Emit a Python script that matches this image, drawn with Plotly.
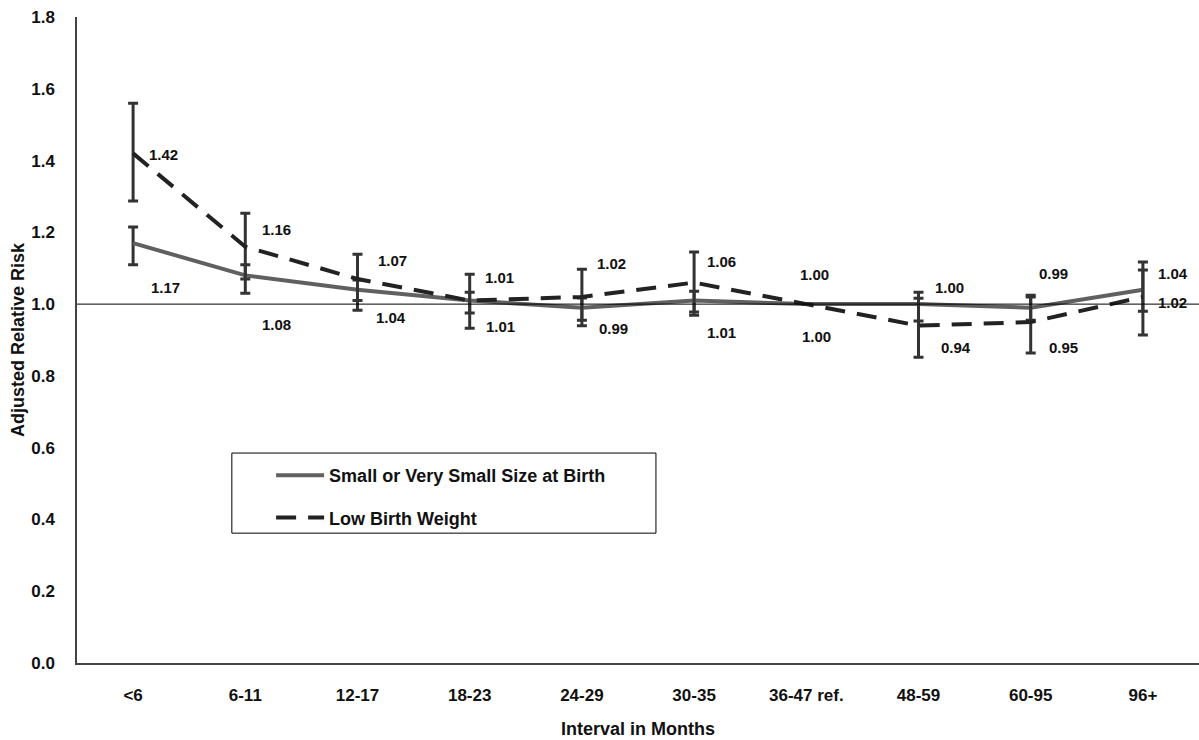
import plotly.graph_objects as go

categories = ["<6", "6-11", "12-17", "18-23", "24-29", "30-35", "36-47 ref.", "48-59", "60-95", "96+"]

small_vals = [1.17, 1.08, 1.04, 1.01, 0.99, 1.01, 1.00, 1.00, 0.99, 1.04]
small_lo = [1.11, 1.03, 1.01, 0.975, 0.955, 0.978, None, 0.953, 0.955, 0.98]
small_hi = [1.215, 1.11, 1.067, 1.033, 1.017, 1.036, None, 1.016, 1.02, 1.095]

lbw_vals = [1.42, 1.16, 1.07, 1.01, 1.02, 1.06, 1.00, 0.94, 0.95, 1.02]
lbw_lo = [1.287, 1.07, 0.983, 0.933, 0.94, 0.969, None, 0.852, 0.864, 0.914]
lbw_hi = [1.56, 1.253, 1.139, 1.083, 1.097, 1.145, None, 1.033, 1.025, 1.117]

small_labels = ["1.17", "1.08", "1.04", "1.01", "0.99", "1.01", "1.00", "1.00", "0.99", "1.04"]
lbw_labels = ["1.42", "1.16", "1.07", "1.01", "1.02", "1.06", "1.00", "0.94", "0.95", "1.02"]

# label offsets in pixels (dx right, dy down)
small_off = [(32, 44), (31, 49), (33, 28), (31, 26), (32, 21), (27, 32), (8, -30), (31, -17), (23, -34), (30, -16)]
lbw_off = [(30, 1), (31, -17), (35, -18), (30, -23), (30, -33), (27, -21), (10, 32), (37, 22), (33, 25), (30, 6)]

y_ticks = [0.0, 0.2, 0.4, 0.6, 0.8, 1.0, 1.2, 1.4, 1.6, 1.8]

FONT = "Liberation Sans, Arial, sans-serif"
BAR = "#333333"
TXT = "#111111"


def err(vals, lo, hi):
    plus = [(h - v) if h is not None else 0 for v, h in zip(vals, hi)]
    minus = [(v - l) if l is not None else 0 for v, l in zip(vals, lo)]
    return plus, minus


sp, sm = err(small_vals, small_lo, small_hi)
lp, lm = err(lbw_vals, lbw_lo, lbw_hi)

fig = go.Figure()

fig.add_trace(go.Scatter(
    x=categories, y=small_vals, mode="lines", name="Small or Very Small Size at Birth",
    line=dict(color="#606060", width=4),
    error_y=dict(type="data", array=sp, arrayminus=sm, color=BAR, thickness=3, width=5),
    legendgroup="a",
))
fig.add_trace(go.Scatter(
    x=categories, y=lbw_vals, mode="lines", name="Low Birth Weight",
    line=dict(color="#222222", width=4, dash="20px,12px"),
    error_y=dict(type="data", array=lp, arrayminus=lm, color=BAR, thickness=3, width=5),
    legendgroup="b",
))

annotations = []
for c, v, t, (dx, dy) in zip(categories, small_vals, small_labels, small_off):
    annotations.append(dict(x=c, y=v, text=t, showarrow=False, xshift=dx, yshift=-dy,
                            font=dict(family=FONT, size=15, color=TXT, weight="bold")))
for c, v, t, (dx, dy) in zip(categories, lbw_vals, lbw_labels, lbw_off):
    annotations.append(dict(x=c, y=v, text=t, showarrow=False, xshift=dx, yshift=-dy,
                            font=dict(family=FONT, size=15, color=TXT, weight="bold")))

fig.update_layout(
    width=1199, height=740,
    margin=dict(l=77, r=0, t=17, b=77),
    paper_bgcolor="white", plot_bgcolor="white",
    font=dict(family=FONT, size=15, color=TXT),
    annotations=annotations,
    showlegend=True,
    legend=dict(
        x=0.173, y=0.319, xanchor="left", yanchor="top",
        bgcolor="rgba(0,0,0,0)", borderwidth=0,
        font=dict(family=FONT, size=18, color=TXT, weight="bold"),
        traceorder="grouped", tracegroupgap=16, itemwidth=48,
    ),
    shapes=[
        dict(type="line", xref="paper", yref="y", x0=0, x1=1, y0=1.0, y1=1.0,
             line=dict(color="black", width=1), layer="above"),
        dict(type="rect", xref="paper", yref="paper", x0=0.138, x1=0.516, y0=0.201, y1=0.325,
             line=dict(color="black", width=1), fillcolor="rgba(0,0,0,0)", layer="above"),
    ],
)

fig.update_xaxes(
    type="category", range=[-0.5, 9.5],
    showline=True, linecolor="#444444", linewidth=1.5,
    showgrid=False, ticks="", ticklabelstandoff=16,
    tickfont=dict(family=FONT, size=17, color=TXT, weight="bold"),
    title=dict(text="Interval in Months", standoff=18,
               font=dict(family=FONT, size=18, color=TXT, weight="bold")),
)
fig.update_yaxes(
    range=[0, 1.8], tickvals=y_ticks, ticktext=[f"{v:.1f}" for v in y_ticks],
    showline=True, linecolor="#444444", linewidth=1.5,
    showgrid=False, zeroline=False, ticks="", ticklabelstandoff=17,
    tickfont=dict(family=FONT, size=17, color=TXT, weight="bold"),
    title=dict(text="Adjusted Relative Risk", standoff=2,
               font=dict(family=FONT, size=18, color=TXT, weight="bold")),
)

fig.write_html("out.html")
